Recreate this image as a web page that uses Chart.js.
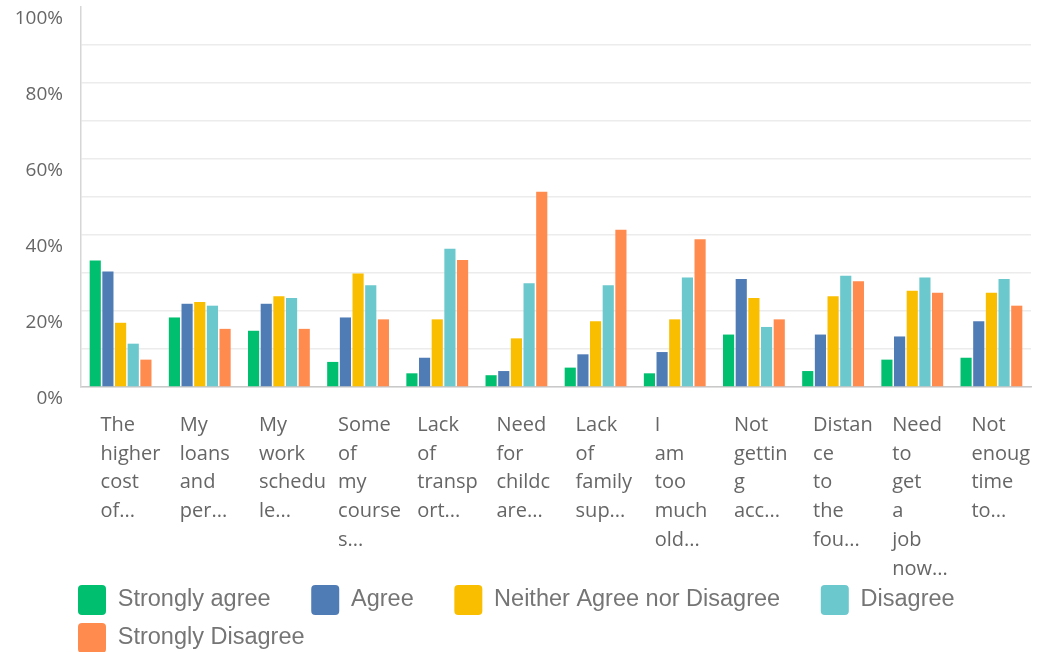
<!DOCTYPE html>
<html>
<head>
<meta charset="utf-8">
<script src="https://cdn.jsdelivr.net/npm/chart.js@4/dist/chart.umd.min.js"></script>
<style>
  body { margin: 0; background: #fff; }
  #wrap { width: 1037px; height: 652px; }
</style>
</head>
<body>
<div id="wrap"><canvas id="chart" width="1037" height="652"></canvas></div>
<script>
// Categories (wrapped the same way as the survey export)
const categories = [
    ['The', 'higher', 'cost', 'of...'],
    ['My', 'loans', 'and', 'per...'],
    ['My', 'work', 'schedu', 'le...'],
    ['Some', 'of', 'my', 'course', 's...'],
    ['Lack', 'of', 'transp', 'ort...'],
    ['Need', 'for', 'childc', 'are...'],
    ['Lack', 'of', 'family', 'sup...'],
    ['I', 'am', 'too', 'much', 'old...'],
    ['Not', 'gettin', 'g', 'acc...'],
    ['Distan', 'ce', 'to', 'the', 'fou...'],
    ['Need', 'to', 'get', 'a', 'job', 'now...'],
    ['Not', 'enoug', 'time', 'to...']
];

// Series values in percent
const stronglyAgree    = [33.3, 18.3, 14.8, 6.6, 3.6, 3.1, 5.1, 3.6, 13.8, 4.2, 7.2, 7.7];
const agree            = [30.4, 21.9, 21.9, 18.3, 7.7, 4.2, 8.6, 9.2, 28.4, 13.8, 13.3, 17.3];
const neither          = [16.9, 22.4, 23.9, 29.9, 17.8, 12.8, 17.3, 17.8, 23.4, 23.9, 25.3, 24.8];
const disagree         = [11.4, 21.4, 23.4, 26.8, 36.4, 27.3, 26.8, 28.8, 15.8, 29.3, 28.8, 28.4];
const stronglyDisagree = [7.2, 15.3, 15.3, 17.8, 33.4, 51.4, 41.4, 38.9, 17.8, 27.8, 24.8, 21.4];

const seriesNames = ['Strongly agree', 'Agree', 'Neither Agree nor Disagree', 'Disagree', 'Strongly Disagree'];
const seriesColors = ['#00bf6f', '#507cb6', '#f9be00', '#6bc8cd', '#ff8b4f'];

// y axis ticks: grid every 10, label every 20
const yTickStep = 10;
const yLabelEvery = 20;

const allSeries = [stronglyAgree, agree, neither, disagree, stronglyDisagree];

const datasets = allSeries.map(function (values, i) {
    return {
        label: seriesNames[i],
        data: values,
        backgroundColor: seriesColors[i],
        borderWidth: 0,
        barPercentage: 0.88,
        categoryPercentage: 0.8
    };
});

// move the legend block so it starts under the plot like the original
const legendPlace = {
    id: 'legendPlace',
    afterLayout(chart) {
        chart.legend.left = 70;
        chart.legend.top = 577;
    }
};

const labelFont = '"Open Sans", "Noto Sans", sans-serif';

new Chart(document.getElementById('chart'), {
    type: 'bar',
    data: {
        labels: categories,
        datasets: datasets
    },
    options: {
        responsive: false,
        animation: false,
        layout: {
            padding: { left: 12, right: 6, top: 7, bottom: -20 }
        },
        scales: {
            x: {
                grid: { drawOnChartArea: false, drawTicks: false },
                border: { display: true, color: '#c9c9c9', width: 1.5 },
                ticks: {
                    autoSkip: false,
                    maxRotation: 0,
                    minRotation: 0,
                    align: 'start',
                    labelOffset: -20,
                    padding: 24,
                    color: '#666',
                    font: { family: labelFont, size: 20, lineHeight: 1.435 }
                },
                afterFit: function (scale) {
                    scale.height = 199;
                    scale.paddingLeft = 0;
                    scale.paddingRight = 0;
                }
            },
            y: {
                min: 0,
                max: 100,
                grid: {
                    drawTicks: false,
                    color: function (ctx) {
                        return ctx.tick && ctx.tick.value === 100 ? 'rgba(0,0,0,0)' : '#ececec';
                    },
                    lineWidth: 1.5
                },
                border: { display: true, color: '#d6d6d6', width: 1.5 },
                ticks: {
                    stepSize: yTickStep,
                    padding: 18,
                    labelOffset: 12,
                    color: '#666',
                    font: { family: labelFont, size: 19 },
                    callback: function (value) {
                        return value % yLabelEvery === 0 ? value + '%' : '';
                    }
                },
                afterFit: function (scale) {
                    scale.width = 69;
                    scale.paddingTop = 0;
                    scale.paddingBottom = 0;
                }
            }
        },
        plugins: {
            tooltip: { enabled: false },
            legend: {
                position: 'bottom',
                align: 'start',
                labels: {
                    boxWidth: 28,
                    boxHeight: 30,
                    padding: 8,
                    useBorderRadius: true,
                    borderRadius: 4,
                    color: '#757575',
                    font: { family: '"Liberation Sans", Arial, sans-serif', size: 23.5 },
                    generateLabels: function (chart) {
                        const items = Chart.defaults.plugins.legend.labels.generateLabels(chart);
                        // trailing gap after each label, the original spaces items wider than rows
                        items.forEach(function (item) {
                            item.text = item.text + '\u00a0\u00a0\u00a0\u00a0\u00a0';
                        });
                        return items;
                    }
                }
            }
        }
    },
    plugins: [legendPlace]
});
</script>
</body>
</html>
